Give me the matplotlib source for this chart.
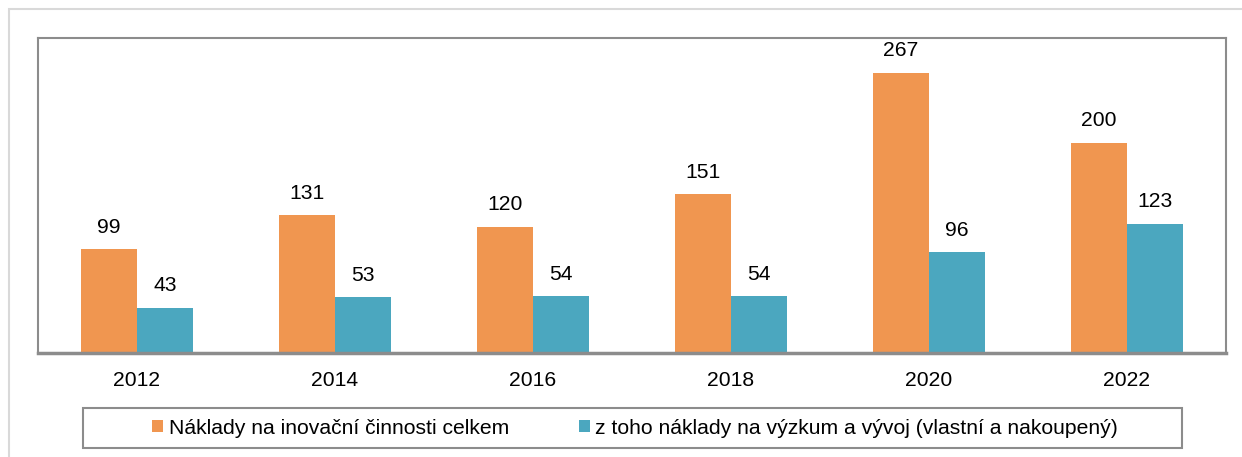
import numpy as np
import matplotlib
matplotlib.use("Agg")
import matplotlib.pyplot as plt
from matplotlib.patches import Rectangle

years = ["2012", "2014", "2016", "2018", "2020", "2022"]
total_costs = [99, 131, 120, 151, 267, 200]
rnd_costs = [43, 53, 54, 54, 96, 123]
labels = ["Náklady na inovační činnosti celkem",
          "z toho náklady na výzkum a vývoj (vlastní a nakoupený)"]

ORANGE = "#F09650"
BLUE = "#4BA7BF"
FRAME = "#8C8C8C"
FS = 15.2

plt.rcParams["font.family"] = ["Liberation Sans", "DejaVu Sans"]

W, H = 1242, 457
fig = plt.figure(figsize=(W / 100, H / 100), dpi=100)

# outer chart border (only left/top visible in the crop)
fig.patches.append(Rectangle((9 / W, -0.1), 1.2, (H - 9) / H + 0.1,
                             transform=fig.transFigure, fill=False,
                             edgecolor="#D9D9D9", linewidth=1.5))

ax = fig.add_axes([38 / W, (H - 353) / H, 1188 / W, 315 / H])

x = np.arange(len(years))
w = 0.285
b1 = ax.bar(x - w / 2, total_costs, w, color=ORANGE, label=labels[0])
b2 = ax.bar(x + w / 2, rnd_costs, w, color=BLUE, label=labels[1])

ax.bar_label(b1, padding=9, fontsize=FS)
ax.bar_label(b2, padding=9, fontsize=FS)

ax.set_xlim(-0.5, len(years) - 0.5)
ax.set_ylim(0, 300)
ax.set_yticks([])
ax.set_xticks(x)
ax.set_xticklabels(years, fontsize=FS)
ax.tick_params(axis="x", length=0, pad=13)

for side in ["left", "top", "right"]:
    ax.spines[side].set_color(FRAME)
    ax.spines[side].set_linewidth(1.5)
ax.spines["bottom"].set_color(FRAME)
ax.spines["bottom"].set_linewidth(2.5)

# legend box
fig.patches.append(Rectangle((83 / W, (H - 448) / H), (1182 - 83) / W, 40 / H,
                             transform=fig.transFigure, fill=False,
                             edgecolor=FRAME, linewidth=1.5))
fig.legend(handles=[b1, b2], labels=labels, loc="center",
           bbox_to_anchor=(635 / W, (H - 428) / H), ncol=2, frameon=False,
           fontsize=FS, handlelength=0.52, handleheight=0.52,
           handletextpad=0.25, columnspacing=3.3)

fig.savefig("out.png", dpi=100)
